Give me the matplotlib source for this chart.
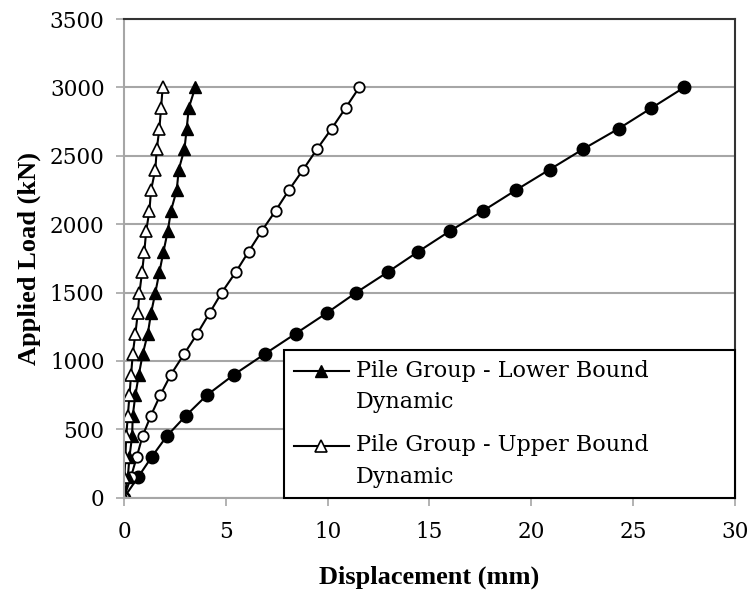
import matplotlib
matplotlib.use("Agg")
import numpy as np
import matplotlib.pyplot as plt
from matplotlib.legend_handler import HandlerLine2D

# applied load steps (kN)
load = [0, 150, 300, 450, 600, 750, 900, 1050, 1200, 1350, 1500,
        1650, 1800, 1950, 2100, 2250, 2400, 2550, 2700, 2850, 3000]

# displacement (mm) for each curve
disp_single_lb = [0, 0.69, 1.37, 2.10, 3.04, 4.07, 5.40, 6.90, 8.43, 9.95, 11.40,
                  12.95, 14.45, 16.00, 17.65, 19.25, 20.90, 22.55, 24.30, 25.90, 27.50]
disp_single_ub = [0, 0.34, 0.63, 0.91, 1.32, 1.78, 2.30, 2.95, 3.60, 4.20, 4.80,
                  5.49, 6.12, 6.76, 7.45, 8.10, 8.80, 9.48, 10.20, 10.88, 11.55]
disp_group_lb = [0, 0.19, 0.27, 0.40, 0.43, 0.56, 0.73, 0.92, 1.17, 1.33, 1.54,
                 1.74, 1.94, 2.15, 2.31, 2.59, 2.69, 2.97, 3.08, 3.18, 3.50]
disp_group_ub = [0, 0.02, 0.07, 0.11, 0.19, 0.27, 0.35, 0.43, 0.56, 0.68, 0.76,
                 0.89, 1.00, 1.09, 1.25, 1.33, 1.54, 1.61, 1.74, 1.82, 1.90]

labels = ["Pile Group - Lower Bound\nDynamic", "Pile Group - Upper Bound\nDynamic"]


class FirstLineHandler(HandlerLine2D):
    # put the legend marker next to the first line of a two-line label
    def create_artists(self, legend, orig_handle, xdescent, ydescent,
                       width, height, fontsize, trans):
        artists = super().create_artists(legend, orig_handle, xdescent, ydescent,
                                         width, height, fontsize, trans)
        for a in artists:
            a.set_ydata(np.asarray(a.get_ydata()) + 11.5)
        return artists


fig = plt.figure(figsize=(7.5, 5.97), dpi=100)
ax = fig.add_axes([0.1653, 0.1663, 0.8147, 0.8017])

ax.plot(disp_single_lb, load, "-o", color="black", lw=1.5, ms=9,
        mfc="black", mec="black", label="_nolegend_")
ax.plot(disp_single_ub, load, "-o", color="black", lw=1.5, ms=7.5,
        mfc="white", mec="black", mew=1.3, label="_nolegend_")
l1, = ax.plot(disp_group_lb, load, "-^", color="black", lw=1.5, ms=8.5,
              mfc="black", mec="black", label=labels[0])
l2, = ax.plot(disp_group_ub, load, "-^", color="black", lw=1.5, ms=8.5,
              mfc="white", mec="black", mew=1.2, label=labels[1])

ax.set_xlim(0, 30)
ax.set_ylim(0, 3500)
ax.set_xticks(range(0, 31, 5))
ax.set_yticks(range(0, 3501, 500))
ax.yaxis.grid(True, color="#a6a6a6", lw=1.5)
ax.set_axisbelow(True)

for side in ("left", "bottom"):
    ax.spines[side].set_color("#a6a6a6")
    ax.spines[side].set_linewidth(1.5)
for side in ("top", "right"):
    ax.spines[side].set_color("#333333")
    ax.spines[side].set_linewidth(1.5)

ax.tick_params(axis="both", direction="out", length=6, width=1.2,
               color="#a6a6a6", labelsize=15.5, pad=8)
ax.tick_params(axis="x", pad=11)
for t in ax.get_xticklabels() + ax.get_yticklabels():
    t.set_fontfamily("DejaVu Serif")

ax.set_xlabel("Displacement (mm)", fontsize=19, fontweight="bold",
              fontfamily="Liberation Serif", labelpad=16)
ax.set_ylabel("Applied Load (kN)", fontsize=19, fontweight="bold",
              fontfamily="Liberation Serif", labelpad=6)

leg = ax.legend(handles=[l1, l2], loc="lower left",
                bbox_to_anchor=(0.262, 0.0, 0.738, 0.32),
                mode="expand", borderaxespad=0, fancybox=False,
                prop={"family": "DejaVu Serif", "size": 16},
                handler_map={l1: FirstLineHandler(), l2: FirstLineHandler()},
                handlelength=2.45, handletextpad=0.35, labelspacing=0.95,
                borderpad=0.45, framealpha=1)
leg.get_frame().set_edgecolor("black")
leg.get_frame().set_linewidth(1.5)
for t in leg.get_texts():
    t.set_linespacing(1.55)

fig.savefig("out.png", dpi=100)
